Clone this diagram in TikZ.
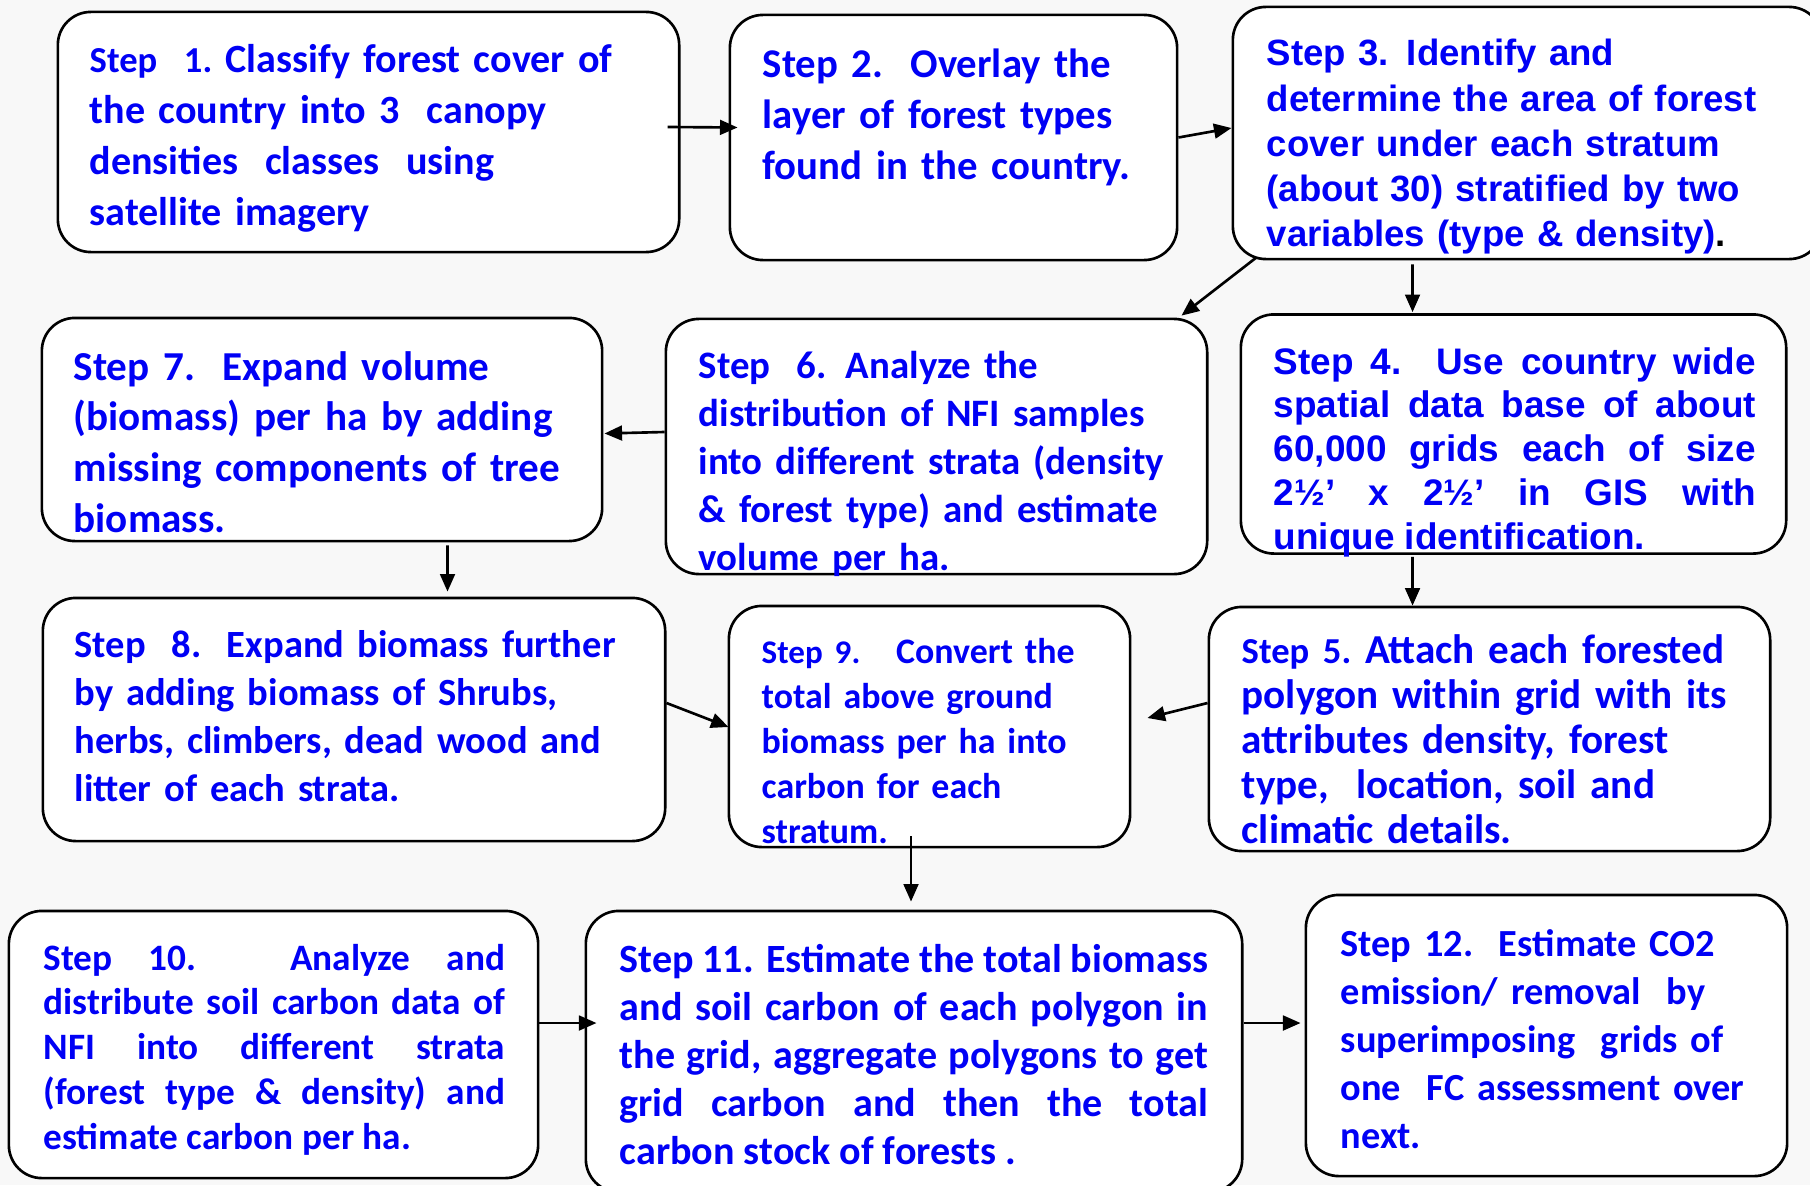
\documentclass[tikz,border=0pt]{standalone}
\usepackage{fontspec}
\setmainfont{Carlito}[BoldFont={* Bold}]
\newfontfamily\arialfont{Liberation Sans}
\usetikzlibrary{arrows.meta,calc}
\definecolor{stepblue}{RGB}{0,0,245}
\definecolor{paper}{RGB}{248,248,248}

\begin{document}
\begin{tikzpicture}[x=0.01cm, y=-0.01cm,
	stepbox/.style={draw, line width=0.75pt, rounded corners=0.33cm, fill=white, inner sep=0pt},
	steptext/.style={anchor=base west, inner sep=0pt, text=stepblue, align=left, text width=#1},
	steptext/.default=6.5cm,
	arr/.style={-{Triangle[length=5pt,width=4.2pt]}, line width=0.75pt}]

	\useasboundingbox (0,0) rectangle (1810,1185);
	\clip (0,0) rectangle (1810,1185);
	\fill[paper] (0,0) rectangle (1810,1185);

	% draw boxes
	\node[stepbox, minimum width=6.21cm, minimum height=2.40cm] (s1) at (368.5,132) {};
	\node[stepbox, minimum width=4.47cm, minimum height=2.45cm] (s2) at (953.5,137.5) {};
	\node[stepbox, minimum width=5.89cm, minimum height=2.52cm] (s3) at (1527.5,133) {};
	\node[stepbox, minimum width=5.60cm, minimum height=2.23cm] (s7) at (322,429.5) {};
	\node[stepbox, minimum width=5.41cm, minimum height=2.55cm] (s6) at (936.5,446.5) {};
	\node[stepbox, minimum width=5.45cm, minimum height=2.39cm] (s4) at (1513.5,434) {};
	\node[stepbox, minimum width=6.22cm, minimum height=2.43cm] (s8) at (354,719.5) {};
	\node[stepbox, minimum width=4.01cm, minimum height=2.41cm] (s9) at (929.5,726.5) {};
	\node[stepbox, minimum width=5.61cm, minimum height=2.44cm] (s5) at (1489.5,729) {};
	\node[stepbox, minimum width=5.29cm, minimum height=2.67cm] (s10) at (273.5,1044.5) {};
	\node[stepbox, minimum width=6.56cm, minimum height=2.81cm] (s11) at (914,1051.5) {};
	\node[stepbox, minimum width=4.81cm, minimum height=2.81cm] (s12) at (1546.5,1035.5) {};

	% draw texts
	\node[steptext, font=\bfseries\fontsize{11.4}{14.5}\selectfont] (t1) at (89,73)
		{{\fontsize{10.4}{14.5}\selectfont Step~~1.}~Classify forest cover of\\
		the country into 3~~canopy\\
		densities~~classes~~using\\
		satellite imagery};
	\node[steptext, font=\bfseries\fontsize{11.6}{14.5}\selectfont] (t2) at (762,78)
		{Step 2.~~Overlay the\\
		layer of forest types\\
		found in the country.};
	\node[steptext, font=\arialfont\bfseries\fontsize{10.4}{12.8}\selectfont] (t3) at (1266,66)
		{Step 3. Identify and\\
		determine the area of forest\\
		cover under each stratum\\
		(about 30) stratified by two\\
		variables (type \& density){\color{black}.}};
	\node[steptext, font=\bfseries\fontsize{11.7}{14.5}\selectfont] (t7) at (73,380)
		{Step 7.~~Expand volume\\
		(biomass) per ha by adding\\
		missing components of tree\\
		biomass.};
	\node[steptext, font=\bfseries\fontsize{11.05}{13.7}\selectfont] (t6) at (698,378)
		{Step~~6. Analyze the\\
		distribution of NFI samples\\
		into different strata (density\\
		\& forest type) and estimate\\
		volume per ha.};
	\node[steptext=4.82cm, align=justify, font=\arialfont\bfseries\fontsize{10.5}{12.5}\selectfont] (t4) at (1273,374)
		{Step 4.~~Use country wide\linebreak
		spatial data base of about\linebreak
		60,000 grids each of size\linebreak
		2½’ x 2½’ in GIS with\linebreak
		unique identification.};
	\node[steptext, font=\bfseries\fontsize{10.95}{13.66}\selectfont] (t8) at (74,657)
		{Step~~8.~~Expand biomass further\\
		by adding biomass of Shrubs,\\
		herbs, climbers, dead wood and\\
		litter of each strata.};
	\node[steptext, font=\bfseries\fontsize{10.2}{12.8}\selectfont] (t9) at (761,663)
		{{\fontsize{9.4}{12.8}\selectfont Step 9.}~~~Convert the\\
		total above ground\\
		biomass per ha into\\
		carbon for each\\
		stratum.};
	\node[steptext, font=\bfseries\fontsize{11.7}{12.8}\selectfont] (t5) at (1241,663)
		{{\fontsize{10.4}{12.8}\selectfont Step 5.}~Attach each forested\\
		polygon within grid with its\\
		attributes density, forest\\
		type,~~location, soil and\\
		climatic details.};
	\node[steptext=4.61cm, align=justify, font=\bfseries\fontsize{10.6}{12.73}\selectfont] (t10) at (43,970)
		{Step 10. Analyze and\linebreak
		distribute soil carbon data of\linebreak
		NFI into different strata\linebreak
		(forest type \& density) and\linebreak
		estimate carbon per ha.};
	\node[steptext=5.88cm, align=justify, font=\bfseries\fontsize{11.4}{13.66}\selectfont] (t11) at (619,972)
		{Step 11. Estimate the total biomass\linebreak
		and soil carbon of each polygon in\linebreak
		the grid, aggregate polygons to get\linebreak
		grid carbon and then the total\linebreak
		carbon stock of forests .};
	\node[steptext, font=\bfseries\fontsize{10.9}{13.66}\selectfont] (t12) at (1340,956)
		{Step 12.~~Estimate CO2\\
		emission/ removal~~by\\
		superimposing~~grids of\\
		one~~FC assessment over\\
		next.};

	% draw arrows
	\draw[arr] ($(s1.east)+(-13,-5)$) -- ($(s2.west)+(9,-10)$);
	\draw[arr] (s2.east) -- ($(s3.west)+(0,-5)$);
	\draw[arr] ($(s3.south west)+(25,-3)$) -- ($(s6.north east)+(-27,-2)$);
	\draw[arr] ($(s3.south west)+(181,4)$) -- ($(s4.north west)+(173,-1)$);
	\draw[arr] ($(s4.south west)+(173,2)$) -- ($(s5.north west)+(205,0)$);
	\draw[arr] ($(s6.west)+(0,-14.5)$) -- ($(s7.east)+(1,4)$);
	\draw[arr] ($(s7.south west)+(407,3)$) -- ($(s8.north west)+(406,-5)$);
	\draw[arr] ($(s5.west)+(0,-26)$) -- ($(s9.east)+(16,-8.5)$);
	\draw[arr] ($(s8.east)+(0,-16.5)$) -- ($(s9.west)+(1,0.5)$);
	\draw[arr] ($(s9.south)+(-18.5,-12)$) -- ($(s11.north)+(-3,-8)$);
	\draw[arr] ($(s10.east)+(0,-21.5)$) -- ($(s11.west)+(12,-28.5)$);
	\draw[arr] ($(s11.east)+(0,-28.5)$) -- ($(s12.west)+(-4,-12.5)$);

\end{tikzpicture}
\end{document}
